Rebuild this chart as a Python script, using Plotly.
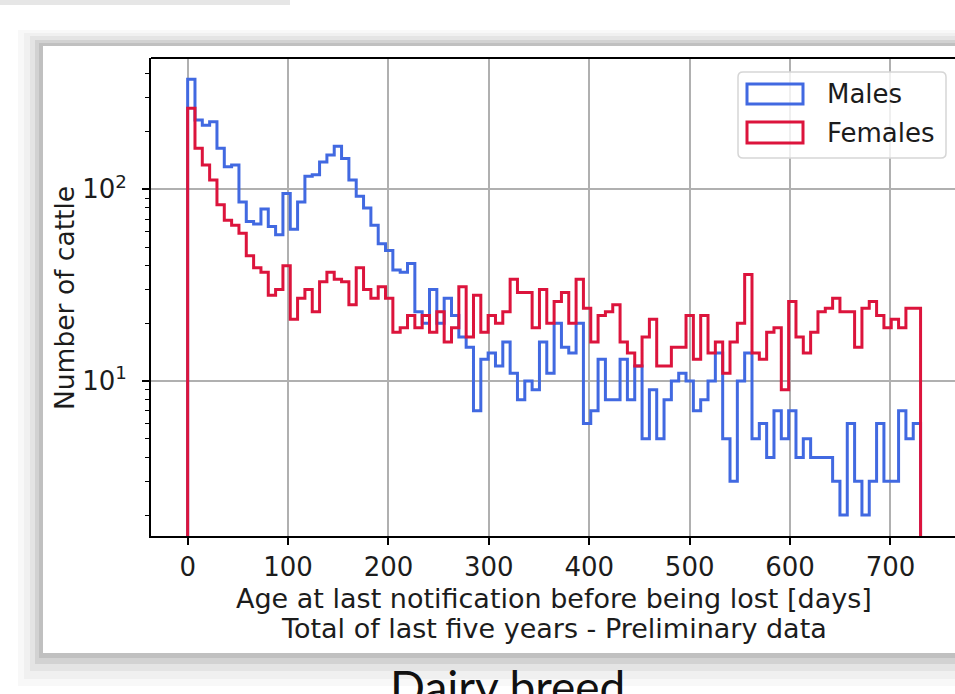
import numpy as np
import plotly.graph_objects as go

# ---------------- data ----------------
BIN_START = 0.0
BIN_END = 730.0
N_BINS = 100

males = [375, 230, 216, 225, 164, 131, 134, 86, 68, 66,
         79, 64, 58, 95, 62, 86, 117, 119, 139, 151,
         168, 145, 112, 92, 80, 65, 52, 48, 38, 37,
         41, 23, 20, 30, 20, 27, 22, 17, 15, 7,
         13, 14, 12, 16, 11, 8, 10, 9, 16, 11,
         20, 15, 14, 20, 6, 7, 13, 8, 8, 13,
         8, 12, 5, 9, 5, 8, 10, 11, 10, 7,
         8, 10, 14, 5, 3, 10, 14, 5, 6, 4,
         7, 5, 7, 4, 5, 4, 4, 4, 3, 2,
         6, 3, 2, 3, 6, 3, 3, 7, 5, 6]

females = [265, 164, 134, 112, 83, 69, 65, 59, 45, 39,
           37, 28, 30, 40, 21, 27, 30, 23, 33, 37,
           34, 33, 25, 39, 30, 27, 31, 27, 18, 19,
           22, 19, 22, 18, 23, 16, 19, 31, 17, 28,
           18, 22, 20, 23, 34, 29, 29, 19, 30, 20,
           26, 29, 20, 34, 24, 16, 22, 23, 25, 16,
           14, 12, 17, 21, 12, 12, 15, 15, 22, 13,
           22, 14, 16, 11, 16, 20, 36, 14, 13, 18,
           19, 9, 26, 17, 14, 18, 23, 24, 27, 23,
           23, 15, 24, 26, 22, 19, 21, 19, 24, 24]

x_ticks = [0, 100, 200, 300, 400, 500, 600, 700]
y_ticks = [10, 100]
y_tick_text = ["10<sup>1</sup>", "10<sup>2</sup>"]
y_minor = [2, 3, 4, 5, 6, 7, 8, 9, 20, 30, 40, 50, 60, 70, 80, 90, 200, 300, 400]

series_names = ["Males", "Females"]
series_colors = ["#4169E1", "#DC143C"]

x_title_1 = "Age at last notification before being lost [days]"
x_title_2 = "Total of last five years - Preliminary data"
y_title = "Number of cattle"
caption = "Dairy breed"

# ---------------- layout geometry (pixels) ----------------
W, H = 955, 694
L, R, T, B = 151, 955, 58, 536
FONT = "DejaVu Sans"
TXT = "#1c1c1c"


def px(xp):
    return (xp - L) / (R - L)


def py(yp):
    return (B - yp) / (B - T)


edges = np.linspace(BIN_START, BIN_END, N_BINS + 1)


def step_xy(counts):
    xs = [edges[0]] + list(edges[:-1]) + [edges[-1], edges[-1]]
    ys = [1.0] + list(counts) + [counts[-1], 1.0]
    return xs, ys


fig = go.Figure()
for name, counts, col in zip(series_names, [males, females], series_colors):
    xs, ys = step_xy(counts)
    fig.add_trace(go.Scatter(x=xs, y=ys, mode="lines", name=name,
                             line=dict(color=col, width=3.0, shape="hv"),
                             showlegend=False))

shapes = []
# slide shadow + white card (below everything)
shadow = [((18, 30, 970, 686), "#f8f8f8"), ((24, 33, 970, 679), "#f0f0f0"),
          ((30, 36, 970, 671), "#e4e4e4"), ((35, 40, 970, 664), "#d2d2d2"),
          ((39, 43, 970, 658), "#c0c0c0")]
for (x0, y0, x1, y1), c in shadow:
    shapes.append(dict(type="rect", xref="paper", yref="paper", layer="below",
                       x0=px(x0), x1=px(x1), y0=py(y0), y1=py(y1),
                       fillcolor=c, line=dict(width=0)))
shapes.append(dict(type="rect", xref="paper", yref="paper", layer="below",
                   x0=px(43), x1=px(970), y0=py(46), y1=py(653),
                   fillcolor="white", line=dict(width=0)))
# faint element at very top-left
shapes.append(dict(type="rect", xref="paper", yref="paper", layer="below",
                   x0=px(0), x1=px(290), y0=py(0), y1=py(5),
                   fillcolor="#e6e6e6", line=dict(width=0)))
# top spine
shapes.append(dict(type="line", xref="paper", yref="paper", layer="above",
                   x0=0, x1=1, y0=1, y1=1, line=dict(color="black", width=1.8)))

# legend box (rounded)
lx0, ly0, lx1, ly1, rr = 738, 72, 946, 158, 5
path = (f"M {px(lx0+rr)},{py(ly0)} L {px(lx1-rr)},{py(ly0)} "
        f"Q {px(lx1)},{py(ly0)} {px(lx1)},{py(ly0+rr)} "
        f"L {px(lx1)},{py(ly1-rr)} Q {px(lx1)},{py(ly1)} {px(lx1-rr)},{py(ly1)} "
        f"L {px(lx0+rr)},{py(ly1)} Q {px(lx0)},{py(ly1)} {px(lx0)},{py(ly1-rr)} "
        f"L {px(lx0)},{py(ly0+rr)} Q {px(lx0)},{py(ly0)} {px(lx0+rr)},{py(ly0)} Z")
shapes.append(dict(type="path", xref="paper", yref="paper", layer="above", path=path,
                   fillcolor="rgba(255,255,255,0.8)", line=dict(color="#d6d6d6", width=1.5)))

annotations = []
leg_rows = [(84, 104), (122, 143)]
for (y0, y1), name, col in zip(leg_rows, series_names, series_colors):
    shapes.append(dict(type="rect", xref="paper", yref="paper", layer="above",
                       x0=px(747), x1=px(803), y0=py(y0), y1=py(y1),
                       fillcolor="rgba(0,0,0,0)", line=dict(color=col, width=3.0)))
    annotations.append(dict(text=name, xref="paper", yref="paper",
                            x=px(825), y=py((y0 + y1) / 2), xanchor="left", yanchor="middle",
                            showarrow=False, font=dict(family=FONT, size=26, color=TXT)))

annotations += [
    dict(text=x_title_1, xref="paper", yref="paper", x=px(554), y=py(598),
         xanchor="center", yanchor="middle", showarrow=False,
         font=dict(family=FONT, size=27, color=TXT)),
    dict(text=x_title_2, xref="paper", yref="paper", x=px(554), y=py(628),
         xanchor="center", yanchor="middle", showarrow=False,
         font=dict(family=FONT, size=27, color=TXT)),
    dict(text=y_title, xref="paper", yref="paper", x=px(64), y=py(298),
         xanchor="center", yanchor="middle", textangle=-90, showarrow=False,
         font=dict(family=FONT, size=26.5, color=TXT)),
    dict(text=caption, xref="paper", yref="paper", x=px(507), y=py(686),
         xanchor="center", yanchor="middle", showarrow=False,
         font=dict(family="Lato", size=46, color="#111111")),
]

fig.update_layout(
    width=W, height=H,
    margin=dict(l=L, r=W - R, t=T, b=H - B, pad=0),
    paper_bgcolor="white", plot_bgcolor="rgba(0,0,0,0)",
    shapes=shapes, annotations=annotations, showlegend=False,
    font=dict(family=FONT, size=26, color=TXT),
)

ppd = 1.004
fig.update_xaxes(range=[-36.5, -36.5 + (R - L) / ppd],
                 tickvals=x_ticks, ticks="outside", ticklen=7, tickwidth=1.6,
                 tickcolor="black", showline=True, linecolor="black", linewidth=1.8,
                 showgrid=True, gridcolor="#b0b0b0", gridwidth=1.6, zeroline=False,
                 tickfont=dict(family=FONT, size=26, color=TXT), ticklabelstandoff=0)
fig.update_yaxes(type="log", range=[0.192, 2.685],
                 tickvals=y_ticks, ticktext=y_tick_text, ticks="outside", ticklen=7,
                 tickwidth=1.6, tickcolor="black", showline=True, linecolor="black",
                 linewidth=1.8, showgrid=True, gridcolor="#b0b0b0", gridwidth=1.6,
                 zeroline=False, tickfont=dict(family=FONT, size=26, color=TXT),
                 ticklabelstandoff=10,
                 minor=dict(tickmode="array", tickvals=y_minor, ticks="outside",
                            ticklen=4, tickwidth=1.2, tickcolor="black", showgrid=False))

fig.write_html("out.html", config={"displayModeBar": False},
               post_script="document.body.style.margin='0';document.body.style.overflow='hidden';")
